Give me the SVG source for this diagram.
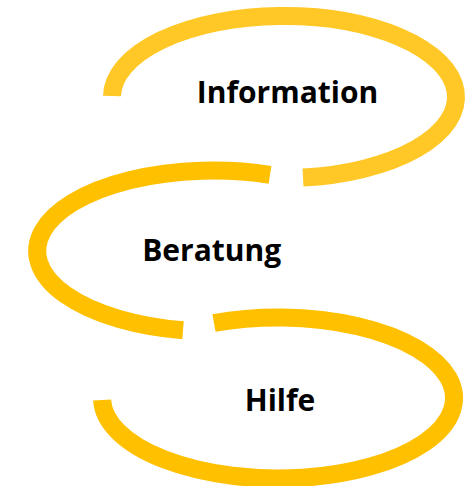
<svg xmlns="http://www.w3.org/2000/svg" width="472" height="486" viewBox="0 0 472 486">
<style>
.ring{fill:none;stroke-width:18;stroke-linecap:butt}
.lbl{font-family:"Open Sans","Liberation Sans",sans-serif;font-weight:bold;font-size:30px;fill:#000;text-anchor:middle}
</style>
<rect width="472" height="486" fill="#fff"/>
<g id="connectors">
<path id="ring-information" class="ring" stroke="#FFC826" d="M112,96 A172,81 0 1,1 303,177.5"/>
<path id="ring-beratung" class="ring" stroke="#FFC000" d="M270,174.8 A176,80.5 0 1,0 183,330.3"/>
<path id="ring-hilfe" class="ring" stroke="#FFC000" d="M214,323 A176,80.5 0 1,1 102.1,400"/>
</g>
<g id="node-information"><text class="lbl" x="287.5" y="103">Information</text></g>
<g id="node-beratung"><text class="lbl" x="211.7" y="261">Beratung</text></g>
<g id="node-hilfe"><text class="lbl" x="280" y="410.7">Hilfe</text></g>
</svg>
